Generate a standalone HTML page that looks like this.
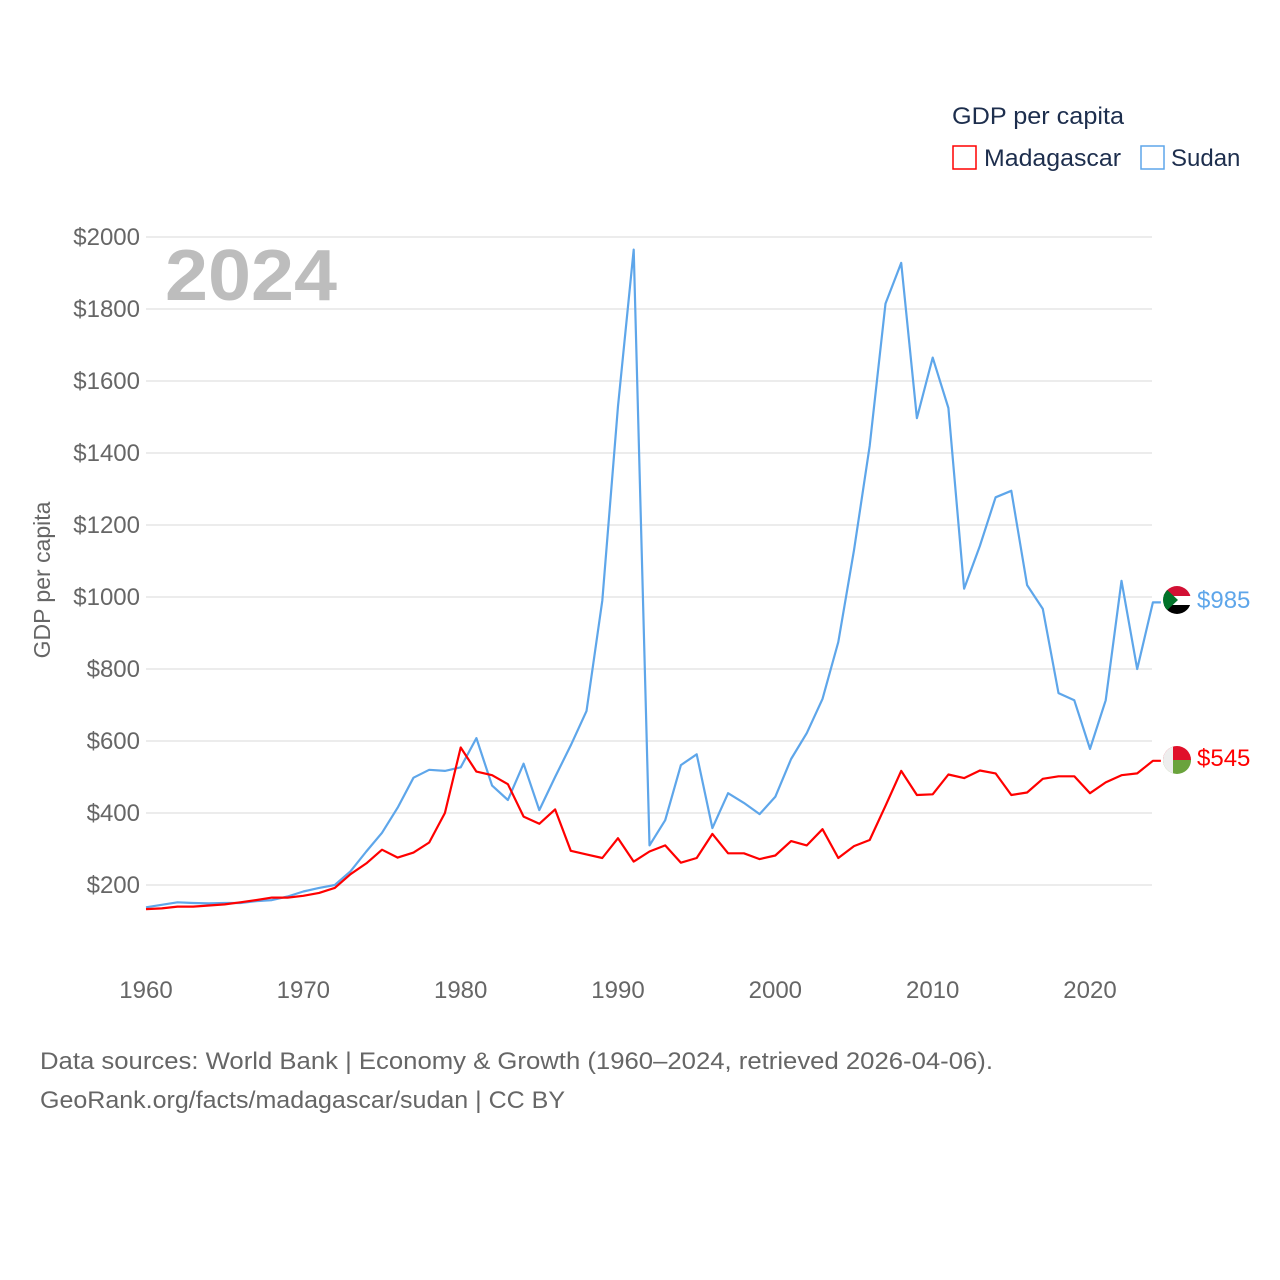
<!DOCTYPE html>
<html><head><meta charset="utf-8"><style>
body{margin:0;background:#fff;font-family:"Liberation Sans",sans-serif}
svg{display:block}
</style></head><body>
<svg id="chart" width="1280" height="1280" viewBox="0 0 1280 1280" xmlns="http://www.w3.org/2000/svg">
<g id="grid"></g>
<g id="yticks"></g>
<g id="xticks"></g>
<text x="165" y="300" font-size="72" font-weight="bold" fill="#bdbdbd" textLength="172" lengthAdjust="spacingAndGlyphs">2024</text>
<text transform="translate(50,580) rotate(-90)" text-anchor="middle" font-size="23" fill="#666">GDP per capita</text>
<g id="series"></g>
<g>
<text x="952" y="124" font-size="24" fill="#1d2e4d" textLength="172" lengthAdjust="spacingAndGlyphs">GDP per capita</text>
<g><rect x="953" y="146" width="23" height="23" fill="none" stroke="#ff0000" stroke-width="1.5"/><text x="984" y="166" font-size="24" fill="#1d2e4d" textLength="137" lengthAdjust="spacingAndGlyphs">Madagascar</text></g>
<g><rect x="1141" y="146" width="23" height="23" fill="none" stroke="#5ea6ea" stroke-width="1.5"/><text x="1171" y="166" font-size="24" fill="#1d2e4d">Sudan</text></g>
</g>
<defs>
<clipPath id="c1"><circle cx="1177" cy="600" r="14"/></clipPath>
<clipPath id="c2"><circle cx="1177" cy="760" r="14"/></clipPath>
</defs>
<g clip-path="url(#c1)">
<rect x="1163" y="586" width="28" height="10" fill="#d21034"/><rect x="1163" y="596" width="28" height="9" fill="#fff"/><rect x="1163" y="605" width="28" height="10" fill="#000"/><polygon points="1163,586 1178,600 1163,614" fill="#007229"/>
</g>
<g clip-path="url(#c2)">
<rect x="1163" y="746" width="28" height="14" fill="#e0102a"/><rect x="1163" y="760" width="28" height="14" fill="#6aa33c"/><rect x="1163" y="746" width="10" height="28" fill="#eee"/>
</g>
<text x="1197" y="608" font-size="24" fill="#5ea6ea">$985</text>
<text x="1197" y="766" font-size="24" fill="#ff0000">$545</text>
<text x="40" y="1069" font-size="24" fill="#666" textLength="953" lengthAdjust="spacingAndGlyphs">Data sources: World Bank | Economy &amp; Growth (1960–2024, retrieved 2026-04-06).</text>
<text x="40" y="1108" font-size="24" fill="#666" textLength="525" lengthAdjust="spacingAndGlyphs">GeoRank.org/facts/madagascar/sudan | CC BY</text>
</svg>
<script>
const years = [];
for (let y = 1960; y <= 2024; y++) years.push(y);
const madagascar = [133,135,140,140,143,146,152,158,165,165,170,178,192,230,260,298,276,290,318,400,582,515,505,480,390,370,410,295,285,275,330,265,293,310,262,275,342,288,288,272,282,322,310,355,275,308,325,420,517,450,452,507,497,518,510,450,457,495,502,502,455,485,505,510,545];
const sudan = [138,145,152,150,149,150,150,155,158,168,182,192,200,238,293,345,415,498,520,517,527,608,476,436,537,408,500,588,683,990,1530,1965,310,380,533,563,358,455,428,397,445,550,622,717,875,1130,1420,1815,1928,1497,1665,1525,1023,1142,1277,1295,1033,967,733,713,578,713,1045,800,985];
const yTicks = [200,400,600,800,1000,1200,1400,1600,1800,2000];
const xTicks = [1960,1970,1980,1990,2000,2010,2020];
const NS = "http://www.w3.org/2000/svg";
const xS = yr => 146 + (yr - 1960) * (944 / 60);
const yS = v => 885 - (v - 200) * 0.36;
function mk(tag, attrs, parent){const e=document.createElementNS(NS,tag);for(const k in attrs)e.setAttribute(k,attrs[k]);parent.appendChild(e);return e;}
const grid=document.getElementById('grid'), yt=document.getElementById('yticks'), xt=document.getElementById('xticks'), ser=document.getElementById('series');
yTicks.forEach(v=>{
  const l=mk('line',{x1:146,x2:1152,y1:yS(v),y2:yS(v),stroke:'#e6e6e6','stroke-width':1.5},grid);
  
  
  const t=mk('text',{x:140,y:yS(v)+8,'text-anchor':'end','font-size':24,fill:'#666'},yt);
  t.textContent='$'+v;
  
  
});
xTicks.forEach(yr=>{
  const t=mk('text',{x:xS(yr),y:998,'text-anchor':'middle','font-size':24,fill:'#666'},xt);
  t.textContent=yr;
  
  
});
function line(vals,color,name){
  let d=vals.map((v,i)=>(i?'L':'M')+xS(years[i]).toFixed(1)+','+yS(v).toFixed(1)).join(' ');
  d+=' h8';
  const p=mk('path',{d:d,fill:'none',stroke:color,'stroke-width':2.2,'stroke-linejoin':'round'},ser);
  
  
}
line(sudan,'#5ea6ea','sudan-line');
line(madagascar,'#ff0000','madagascar-line');
</script>
</body></html>
